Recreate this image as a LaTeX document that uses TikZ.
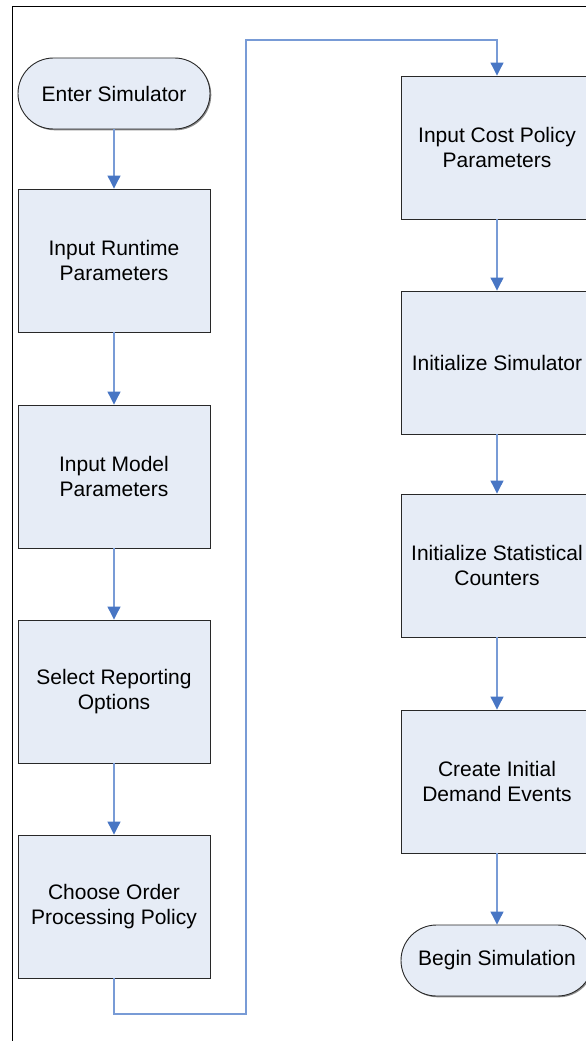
\documentclass[tikz,border=0pt]{standalone}
\usepackage{fontspec}
\setmainfont{Liberation Sans}
\usetikzlibrary{arrows.meta,shadows}
\definecolor{boxfill}{RGB}{230,236,246}
\definecolor{boxdraw}{RGB}{40,40,40}
\definecolor{linkblue}{RGB}{120,155,214}
\definecolor{tipblue}{RGB}{72,118,196}
\tikzset{
  proc/.style={draw=boxdraw, line width=0.9pt, fill=boxfill, minimum width=192pt, minimum height=143pt,
    inner sep=0pt, align=center, font=\fontsize{21pt}{25pt}\selectfont,
    drop shadow={shadow xshift=1.3pt, shadow yshift=-1.3pt, fill=black, opacity=0.45}},
  term/.style={proc, minimum height=71pt, rounded corners=35.5pt},
  link/.style={draw=linkblue, line width=1.1pt, -{Triangle[width=13pt,length=13pt,color=tipblue,fill=tipblue]}},
  frame/.style={draw=black, line width=1.5pt}
}
\begin{document}
\begin{tikzpicture}[x=1pt,y=-1pt]
\useasboundingbox (0,0) rectangle (586,1041);
\clip (0,0) rectangle (586,1041);
\draw[frame] (12.5,1045) -- (12.5,6.5) -- (590,6.5);
% left column
\node[term] (enter) at (114,93.5) {Enter Simulator};
\node[proc] (b1) at (114,260.5) {Input Runtime\\Parameters};
\node[proc] (b2) at (114,476.5) {Input Model\\Parameters};
\node[proc] (b3) at (114,691.5) {Select Reporting\\Options};
\node[proc] (b4) at (114,906.5) {Choose Order\\Processing Policy};
% right column
\node[proc] (r1) at (497,147.5) {Input Cost Policy\\Parameters};
\node[proc] (r2) at (497,362.5) {Initialize Simulator};
\node[proc] (r3) at (497,565.5) {Initialize Statistical\\Counters};
\node[proc] (r4) at (497,781.5) {Create Initial\\Demand Events};
\node[term] (r5) at (497,960.5) {Begin Simulation};
% connectors
\draw[link] (enter) -- (b1);
\draw[link] (b1) -- (b2);
\draw[link] (b2) -- (b3);
\draw[link] (b3) -- (b4);
\coordinate (c1) at (114,1014);
\coordinate (c2) at (246,1014);
\coordinate (c3) at (246,40);
\coordinate (c4) at (497,40);
\draw[link] (b4.south) -- (c1) -- (c2) -- (c3) -- (c4) -- (r1.north);
\draw[link] (r1) -- (r2);
\draw[link] (r2) -- (r3);
\draw[link] (r3) -- (r4);
\draw[link] (r4) -- (r5);
\end{tikzpicture}
\end{document}
